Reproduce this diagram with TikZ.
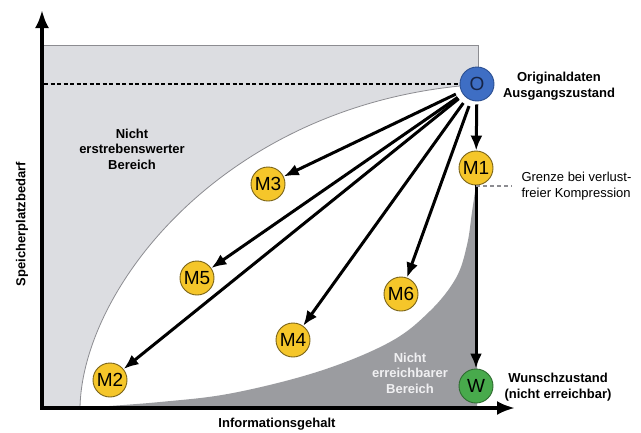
\documentclass[tikz,border=0pt]{standalone}
\usepackage{fontspec}
\setmainfont{Liberation Sans}
\usetikzlibrary{arrows.meta}
\definecolor{lgray}{RGB}{220,221,225}
\definecolor{rgray}{RGB}{140,140,145}
\definecolor{dgray}{RGB}{155,156,160}
\definecolor{myyellow}{RGB}{245,198,42}
\definecolor{yborder}{RGB}{122,99,24}
\definecolor{myblue}{RGB}{62,110,196}
\definecolor{bborder}{RGB}{43,79,145}
\definecolor{btext}{RGB}{22,36,70}
\definecolor{mygreen}{RGB}{72,170,76}
\definecolor{gborder}{RGB}{46,107,48}
\definecolor{wtext}{RGB}{240,240,242}
\tikzset{
  state/.style={circle, minimum size=34pt, inner sep=0pt, line width=0.9pt,
    font=\fontsize{19}{19}\selectfont},
  mnode/.style={state, fill=myyellow, draw=yborder, text=black},
  lbl/.style={font=\fontsize{13}{15.5}\selectfont\bfseries, align=center},
  note/.style={font=\fontsize{13}{15.5}\selectfont, align=left},
  arr/.style={line width=3pt, -{Latex[length=15pt,width=12pt]}},
  axis/.style={line width=3.5pt, -{Latex[length=18pt,width=14pt]}},
}
\begin{document}
\begin{tikzpicture}[x=1pt,y=-1pt]
\useasboundingbox (0,0) rectangle (641,432);
% light gray region
\fill[lgray] (42,45) rectangle (478,408);
\draw[rgray, line width=1pt] (42,45) -- (478,45) -- (478,84);
% white region
\fill[white] (80,408) .. controls (82,290) and (220,110) .. (460,86)
  -- (478,86) -- (478,408) -- cycle;
\draw[rgray, line width=0.8pt] (80,408) .. controls (82,290) and (220,110) .. (460,86);
% dark gray region
\fill[dgray] plot[smooth, tension=0.6] coordinates {(80,408) (160,402) (233,393) (320,371) (390,342) (430,311) (456,278) (467,245) (472,212) (476,185)}
  -- (477,185) -- (477,408) -- cycle;
% dashed line
\coordinate (dl) at (44,84);
% nodes
\node[state, fill=myblue, draw=bborder, text=btext] (O) at (477,84) {O};
\draw[black, line width=1.3pt, dash pattern=on 4pt off 2.5pt] (dl) -- (O.west);
\node[mnode] (M1) at (476,168) {M1};
\node[mnode] (M2) at (110,380) {M2};
\node[mnode] (M3) at (268,184) {M3};
\node[mnode] (M4) at (293,340) {M4};
\node[mnode] (M5) at (197,278) {M5};
\node[mnode] (M6) at (401,294) {M6};
\node[state, fill=mygreen, draw=gborder, text=black] (W) at (476,386) {W};
% axes
\coordinate (orig) at (42,408);
\coordinate (ytip) at (42,10);
\coordinate (xtip) at (515,408);
\draw[axis] ([yshift=1.75pt]orig) -- (ytip);
\draw[axis] ([xshift=-1.75pt]orig) -- (xtip);
% arrows
\draw[arr, shorten <=6pt] (O) -- (M3);
\draw[arr, shorten <=6pt] (O) -- (M5);
\draw[arr, shorten <=6pt] (O) -- (M2);
\draw[arr, shorten <=6pt] (O) -- (M4);
\draw[arr, shorten <=6pt] (O) -- (M6);
\draw[arr, shorten <=3pt] (O) -- (M1);
\draw[arr] (M1) -- (W);
% gray dashed marker
\coordinate (gd) at (512,186);
\draw[rgray, line width=1.6pt, dash pattern=on 4pt off 3pt] (476,186) -- (gd);
% labels
\node[lbl] (t1) at (132,149) {Nicht\\erstrebenswerter\\Bereich};
\node[lbl] (t2) at (559,86) {Originaldaten\\Ausgangszustand};
\node[note, anchor=west] (t3) at (518,186) {Grenze bei verlust-\\freier Kompression};
\node[lbl, text=wtext] (t4) at (410,373) {Nicht\\erreichbarer\\Bereich};
\node[lbl] (t5) at (558,387) {Wunschzustand\\(nicht erreichbar)};
\node[lbl] (t6) at (277,424) {Informationsgehalt};
\node[lbl, rotate=90] (t7) at (22,224) {Speicherplatzbedarf};
\end{tikzpicture}
\end{document}
